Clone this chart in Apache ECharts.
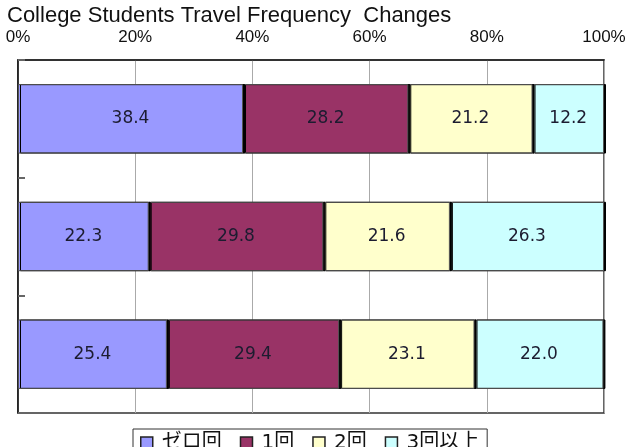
<!DOCTYPE html>
<html>
<head>
<meta charset="utf-8">
<script src="https://cdn.jsdelivr.net/npm/echarts@6/dist/echarts.min.js"></script>
<style>
  html, body { margin: 0; padding: 0; background: #fff; }
  #chart { width: 629px; height: 447px; }
</style>
</head>
<body>
<div id="chart"></div>
<script>
// Survey groups (top to bottom); their names are not printed on the axis
const groups = ['グループA', 'グループB', 'グループC'];
const seriesNames = ['ゼロ回', '1回', '2回', '3回以上'];
const zeroTimes = [38.4, 22.3, 25.4];
const oneTime = [28.2, 29.8, 29.4];
const twoTimes = [21.2, 21.6, 23.1];
const threePlus = [12.2, 26.3, 22.0];
const xTicks = [0, 20, 40, 60, 80, 100];

const colors = ['#9999FF', '#993366', '#FFFFCC', '#CCFFFF'];
const values = [zeroTimes, oneTime, twoTimes, threePlus];

const chart = echarts.init(document.getElementById('chart'));

const series = values.map((vals, i) => ({
  name: seriesNames[i],
  type: 'bar',
  stack: 'total',
  barWidth: '59%',
  z: 10 - i,
  data: vals,
  itemStyle: {
    color: colors[i],
    borderColor: '#555',
    borderWidth: 1,
    shadowColor: '#000',
    shadowOffsetX: 2,
    shadowOffsetY: 0,
    shadowBlur: 0
  },
  label: {
    show: true,
    position: 'inside',
    formatter: p => p.value.toFixed(1),
    color: '#1c1c30',
    fontFamily: 'DejaVu Sans, sans-serif',
    fontSize: 17
  }
}));

chart.setOption({
  animation: false,
  backgroundColor: '#fff',
  title: {
    text: 'College Students Travel Frequency  Changes',
    left: 2,
    top: 0,
    textStyle: {
      fontFamily: 'Liberation Sans, Arial, sans-serif',
      fontSize: 22,
      fontWeight: 'normal',
      color: '#111'
    }
  },
  legend: {
    top: 429,
    left: 133,
    itemGap: 18,
    itemWidth: 12,
    itemHeight: 12,
    icon: 'rect',
    borderColor: '#333',
    borderWidth: 1,
    padding: [4, 8, 4, 7],
    itemStyle: { borderColor: '#222', borderWidth: 1.5 },
    textStyle: {
      fontFamily: 'DejaVu Sans, Noto Sans CJK JP, sans-serif',
      fontSize: 20,
      color: '#111',
      padding: [0, 0, 0, 4]
    },
    data: seriesNames
  },
  grid: {
    left: 18,
    right: 25,
    top: 60,
    height: 353
  },
  xAxis: {
    type: 'value',
    position: 'top',
    min: 0,
    max: 100,
    interval: 20,
    axisLine: { show: true, lineStyle: { color: '#222', width: 1.5 } },
    axisTick: { show: false },
    axisLabel: {
      margin: 14,
      formatter: v => (xTicks.includes(v) ? v + '%' : ''),
      fontFamily: 'Liberation Sans, Arial, sans-serif',
      fontSize: 17,
      color: '#111'
    },
    splitLine: { show: true, lineStyle: { color: '#aaa', width: 1 } }
  },
  yAxis: {
    type: 'category',
    inverse: true,
    data: groups,
    axisLine: { show: true, lineStyle: { color: '#111', width: 1.5 } },
    axisTick: { show: true, inside: true, length: 7, lineStyle: { color: '#666', width: 2 } },
    axisLabel: { show: false }
  },
  graphic: [
    {
      type: 'rect',
      shape: { x: 18, y: 60, width: 586, height: 353 },
      style: { fill: 'none', stroke: '#333', lineWidth: 1.5 },
      z: 0,
      silent: true
    }
  ],
  series: series
});
</script>
</body>
</html>
